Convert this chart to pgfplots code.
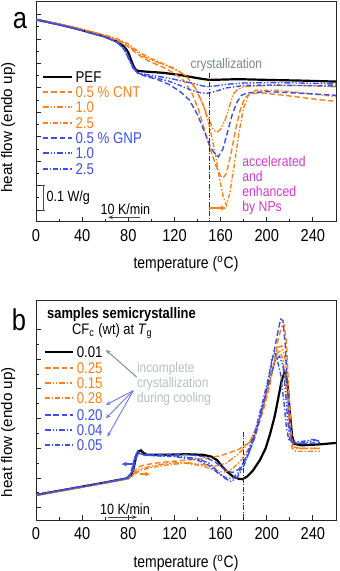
\documentclass[border=0pt]{standalone}
\usepackage{fontspec}
\setmainfont{Liberation Sans}[FakeStretch=0.85]
\newfontfamily\ylf{Liberation Sans}
\usepackage{pgfplots}
\pgfplotsset{compat=1.18}
\usetikzlibrary{arrows.meta}
\definecolor{orng}{RGB}{250,130,30}
\definecolor{blu}{RGB}{60,80,230}
\definecolor{mag}{RGB}{205,60,205}
\definecolor{annot}{RGB}{120,135,135}
\definecolor{lgray}{RGB}{180,192,192}
\definecolor{ablue}{RGB}{110,120,235}

\tikzset{
  s1/.style={draw=black, line width=1.1pt},
  s2/.style={draw=orng, line width=0.7pt, dash pattern=on 2.8pt off 1.4pt},
  s3/.style={draw=orng, line width=0.7pt, dash pattern=on 3pt off 0.9pt on 0.7pt off 0.9pt on 0.7pt off 0.9pt},
  s4/.style={draw=orng, line width=0.7pt, dash pattern=on 2.4pt off 1pt on 0.7pt off 1pt},
  s5/.style={draw=blu, line width=0.7pt, dash pattern=on 2.8pt off 1.4pt},
  s6/.style={draw=blu, line width=0.7pt, dash pattern=on 3pt off 0.9pt on 0.7pt off 0.9pt on 0.7pt off 0.9pt},
  s7/.style={draw=blu, line width=0.7pt, dash pattern=on 2.4pt off 1pt on 0.7pt off 1pt},
}
% one legend row: style, line start, line end, y, text
\newcommand{\lgd}[5]{%
  \draw[#1] (axis description cs:#2,#4) -- (axis description cs:#3,#4);
  \node[anchor=west, inner sep=0pt, font=\fontsize{7.8}{8}\selectfont] at (axis description cs:#3,#4) {\hspace{1.6pt}#5};}

\pgfplotsset{
  panel/.style={
    scale only axis, width=150pt,
    xmin=0, xmax=260, xtick={0,40,...,240}, minor x tick num=1,
    yticklabels={}, minor y tick num=1,
    tick align=inside, tick pos=left,
    major tick length=2.6pt, minor tick length=1.5pt,
    axis line style={line width=0.5pt, black!85},
    every tick/.style={black!85, line width=0.45pt},
    tick label style={font=\fontsize{8.6}{9}\selectfont},
    /pgf/number format/assume math mode=true,
    xlabel={temperature (\textsuperscript{o}C)},
    ylabel={heat flow (endo up)},
    xlabel style={font=\fontsize{8.2}{9}\selectfont, anchor=center},
    ylabel style={font=\ylf\fontsize{7.6}{9}\selectfont, anchor=center},
  },
}

\begin{document}
\begin{tikzpicture}
\path[use as bounding box] (0,0) rectangle (170pt,285.5pt);

% ---------------- panel a
\begin{axis}[panel, at={(18pt,174.5pt)}, anchor=south west, height=110pt,
  ymin=-0.049, ymax=0.852, ytick={0,0.1,...,0.8},
  xlabel style={at={(axis description cs:0.5,-0.19)}},
  ylabel style={at={(axis description cs:-0.093,0.43)}},
]
\addplot[s1] coordinates {(0,0.78)(20,0.76)(40,0.737)(60,0.71)(70,0.69)(75,0.675)(78,0.66)(80,0.645)(82,0.62)(84,0.595)(86,0.577)(88,0.570)(95,0.567)(110,0.562)(125,0.553)(140,0.54)(150,0.533)(160,0.534)(175,0.536)(200,0.533)(230,0.53)(260,0.526)};
\addplot[s2] coordinates {(0,0.78)(30,0.75)(60,0.712)(70,0.695)(78,0.675)(85,0.65)(92,0.625)(100,0.605)(110,0.585)(120,0.56)(128,0.53)(135,0.48)(141,0.41)(146,0.33)(151,0.25)(156,0.18)(160,0.14)(162,0.13)(165,0.15)(169,0.23)(173,0.33)(177,0.41)(181,0.46)(185,0.475)(195,0.48)(215,0.47)(240,0.455)(260,0.445)};
\addplot[s3] coordinates {(0,0.78)(30,0.752)(60,0.716)(70,0.7)(78,0.68)(85,0.655)(92,0.632)(100,0.614)(110,0.597)(120,0.577)(130,0.55)(138,0.5)(144,0.44)(149,0.38)(153,0.335)(156.5,0.318)(160,0.33)(164,0.37)(168,0.43)(171,0.475)(175,0.495)(180,0.505)(200,0.51)(230,0.51)(260,0.505)};
\addplot[s4] coordinates {(0,0.78)(30,0.752)(60,0.716)(70,0.702)(80,0.68)(90,0.645)(100,0.62)(110,0.6)(120,0.58)(130,0.55)(138,0.5)(145,0.43)(150,0.35)(155,0.24)(159,0.13)(162,0.06)(165,0.02)(168,0.07)(172,0.19)(176,0.32)(180,0.42)(184,0.47)(190,0.49)(210,0.49)(240,0.475)(260,0.465)};
\addplot[s5] coordinates {(0,0.78)(30,0.748)(60,0.708)(70,0.688)(76,0.665)(80,0.63)(84,0.585)(88,0.56)(95,0.548)(105,0.535)(115,0.515)(125,0.485)(133,0.45)(140,0.39)(146,0.32)(151,0.26)(155,0.23)(158,0.218)(162,0.25)(166,0.32)(170,0.39)(174,0.44)(178,0.47)(184,0.48)(200,0.485)(230,0.478)(260,0.47)};
\addplot[s6] coordinates {(0,0.78)(30,0.748)(60,0.708)(70,0.688)(76,0.662)(80,0.625)(84,0.585)(88,0.565)(95,0.555)(105,0.548)(115,0.54)(125,0.53)(135,0.52)(143,0.51)(148,0.505)(155,0.508)(165,0.515)(180,0.52)(200,0.522)(230,0.52)(260,0.516)};
\addplot[s7] coordinates {(0,0.78)(30,0.748)(60,0.708)(70,0.688)(76,0.66)(80,0.622)(84,0.582)(88,0.562)(95,0.55)(105,0.54)(115,0.528)(125,0.51)(135,0.49)(143,0.48)(148,0.478)(155,0.485)(165,0.5)(180,0.51)(200,0.512)(230,0.51)(260,0.508)};
\addplot[black!80, line width=0.45pt, dash pattern=on 2.5pt off 0.8pt on 0.5pt off 0.8pt] coordinates {(150,0.56)(150,-0.049)};
\lgd{s1}{0.023}{0.12}{0.6605}{PEF}
\lgd{s2, line width=0.9pt}{0.023}{0.12}{0.592}{\textcolor{orng}{0.5 \% CNT}}
\lgd{s3, line width=0.9pt}{0.023}{0.12}{0.521}{\textcolor{orng}{1.0}}
\lgd{s4, line width=0.9pt}{0.023}{0.12}{0.451}{\textcolor{orng}{2.5}}
\lgd{s5, line width=0.9pt}{0.023}{0.12}{0.383}{\textcolor{blu}{0.5 \% GNP}}
\lgd{s6, line width=0.9pt}{0.023}{0.12}{0.312}{\textcolor{blu}{1.0}}
\lgd{s7, line width=0.9pt}{0.023}{0.12}{0.241}{\textcolor{blu}{2.5}}
\node[annot, font=\fontsize{7}{8}\selectfont] at (axis cs:165,0.594) {crystallization};
\draw[orng, line width=0.8pt, -{Stealth[length=3pt,width=2.6pt]}] (axis cs:149.5,0.008) -- (axis cs:165,0.008);
\node[mag, font=\fontsize{7.2}{7.4}\selectfont, align=left, anchor=north west, inner sep=0pt] at (axis cs:178.5,0.222) {accelerated\\and\\enhanced\\by NPs};
\draw[black!70, line width=0.5pt] (axis cs:4.5,0.102) -- (axis cs:8.1,0.102) (axis cs:6.3,0.102) -- (axis cs:6.3,0) (axis cs:4.5,0) -- (axis cs:8.1,0);
\node[font=\fontsize{7.4}{8}\selectfont, anchor=west, inner sep=0pt] at (axis cs:8.8,0.049) {0.1 W/g};
\node[font=\fontsize{7.4}{8}\selectfont, inner sep=0pt] at (axis cs:77.5,0.005) {10 K/min};
\draw[black!70, line width=0.5pt, -{Stealth[length=2.5pt,width=2pt]}] (axis cs:90,-0.03) -- (axis cs:62.5,-0.03);
\end{axis}
\node[font=\fontsize{15}{15}\selectfont] at (10pt,275pt) {a};

% ---------------- panel b
\begin{axis}[panel, at={(18pt,25.5pt)}, anchor=south west, height=109.65pt,
  ymin=-0.0414, ymax=0.697, ytick={0,0.1,...,0.6},
  xlabel style={at={(axis description cs:0.5,-0.196)}},
  ylabel style={at={(axis description cs:-0.093,0.40)}},
]
\addplot[s1] coordinates {(0,0.043)(20,0.057)(40,0.071)(60,0.085)(75,0.096)(80,0.1)(83,0.11)(85,0.14)(87,0.175)(89,0.19)(91,0.193)(93,0.185)(96,0.178)(110,0.178)(130,0.18)(145,0.178)(152,0.172)(157,0.16)(161,0.14)(166,0.12)(171,0.104)(176,0.097)(179,0.096)(183,0.105)(188,0.125)(194,0.16)(199,0.2)(203,0.25)(207,0.31)(210,0.37)(213,0.43)(215.5,0.456)(218,0.42)(220,0.32)(222,0.24)(224,0.215)(230,0.21)(245,0.213)(260,0.218)};
\addplot[s2] coordinates {(0,0.042)(20,0.056)(40,0.07)(60,0.084)(75,0.095)(80,0.099)(85,0.12)(88,0.135)(92,0.142)(100,0.148)(115,0.155)(130,0.16)(145,0.165)(160,0.175)(175,0.195)(185,0.22)(192,0.27)(198,0.34)(203,0.42)(207,0.5)(210,0.57)(213,0.61)(215,0.615)(217,0.56)(219,0.4)(221,0.26)(223,0.205)(230,0.2)(246,0.2)};
\addplot[s3] coordinates {(0,0.041)(20,0.055)(40,0.069)(60,0.083)(75,0.094)(80,0.098)(85,0.115)(90,0.13)(100,0.14)(115,0.15)(130,0.152)(145,0.145)(155,0.14)(165,0.15)(175,0.18)(185,0.22)(192,0.28)(198,0.36)(203,0.44)(207,0.5)(210,0.54)(213,0.545)(216,0.5)(219,0.35)(221,0.24)(223,0.2)(246,0.2)};
\addplot[s4] coordinates {(0,0.041)(20,0.055)(40,0.069)(60,0.083)(75,0.094)(80,0.098)(85,0.11)(90,0.125)(100,0.135)(115,0.145)(130,0.15)(145,0.14)(155,0.125)(163,0.12)(170,0.13)(178,0.16)(186,0.21)(193,0.28)(199,0.37)(204,0.45)(208,0.51)(211,0.53)(214,0.5)(217,0.4)(220,0.27)(222,0.2)(225,0.19)(246,0.19)};
\addplot[s5] coordinates {(0,0.043)(20,0.057)(40,0.071)(60,0.085)(75,0.096)(78,0.098)(82,0.115)(85,0.16)(88,0.19)(90,0.185)(94,0.176)(110,0.18)(130,0.18)(145,0.172)(155,0.155)(163,0.13)(170,0.118)(176,0.13)(183,0.17)(190,0.24)(196,0.33)(201,0.42)(205,0.5)(209,0.58)(212,0.635)(214,0.63)(216,0.55)(218,0.4)(220,0.27)(222,0.22)(230,0.215)(246,0.22)};
\addplot[s6] coordinates {(0,0.043)(20,0.057)(40,0.071)(60,0.085)(75,0.096)(80,0.1)(84,0.125)(87,0.17)(89,0.185)(92,0.18)(100,0.176)(120,0.175)(140,0.165)(150,0.15)(158,0.12)(164,0.098)(169,0.088)(174,0.1)(180,0.14)(187,0.21)(193,0.29)(199,0.38)(204,0.45)(208,0.5)(211,0.51)(214,0.48)(216,0.4)(218,0.3)(220,0.23)(223,0.215)(235,0.22)(242,0.228)(246,0.222)};
\addplot[s7] coordinates {(0,0.043)(20,0.057)(40,0.071)(60,0.085)(75,0.096)(80,0.1)(84,0.13)(86,0.175)(88,0.19)(91,0.18)(100,0.175)(120,0.172)(140,0.16)(150,0.142)(158,0.115)(165,0.1)(170,0.098)(176,0.12)(183,0.18)(190,0.26)(196,0.35)(201,0.43)(205,0.51)(207,0.52)(209,0.5)(212,0.45)(215,0.35)(217,0.27)(219,0.23)(222,0.22)(235,0.225)(240,0.23)(246,0.225)};
\addplot[black!80, line width=0.45pt, dash pattern=on 2.5pt off 0.8pt on 0.5pt off 0.8pt] coordinates {(180,0.256)(180,-0.0414)};
\lgd{s1}{0.03}{0.124}{0.7675}{0.01}
\lgd{s2, line width=0.9pt}{0.03}{0.124}{0.6918}{\textcolor{orng}{0.25}}
\lgd{s3, line width=0.9pt}{0.03}{0.124}{0.6234}{\textcolor{orng}{0.15}}
\lgd{s4, line width=0.9pt}{0.03}{0.124}{0.5550}{\textcolor{orng}{0.28}}
\lgd{s5, line width=0.9pt}{0.03}{0.124}{0.4788}{\textcolor{blu}{0.20}}
\lgd{s6, line width=0.9pt}{0.03}{0.124}{0.4104}{\textcolor{blu}{0.04}}
\lgd{s7, line width=0.9pt}{0.03}{0.124}{0.3420}{\textcolor{blu}{0.05}}
\node[font=\bfseries\fontsize{7.6}{8}\selectfont, anchor=west, inner sep=0pt] at (axis cs:9.3,0.649) {samples semicrystalline};
\node[font=\fontsize{7.6}{8}\selectfont, anchor=west, inner sep=0pt] at (axis cs:30.9,0.593) {CF\textsubscript{c} (wt) at \textit{T}\textsubscript{g}};
\node[lgray, font=\fontsize{7}{7.5}\selectfont, align=left, anchor=north west, inner sep=0pt] at (axis cs:87.2,0.49) {incomplete\\crystallization\\during cooling};
\draw[annot, line width=0.45pt, -{Stealth[length=2.5pt,width=2pt]}] (axis cs:87.2,0.44) -- (axis cs:60.6,0.531);
\draw[ablue, line width=0.45pt, -{Stealth[length=2.5pt,width=2pt]}] (axis cs:84.3,0.394) -- (axis cs:60.6,0.346);
\draw[ablue, line width=0.45pt, -{Stealth[length=2.5pt,width=2pt]}] (axis cs:84.3,0.394) -- (axis cs:60.6,0.301);
\draw[ablue, line width=0.45pt, -{Stealth[length=2.5pt,width=2pt]}] (axis cs:84.3,0.394) -- (axis cs:61.8,0.239);
\draw[blu, line width=0.8pt, -{Stealth[length=2.6pt,width=2.4pt]}] (axis cs:85.8,0.147) -- (axis cs:74.3,0.147);
\draw[orng, line width=0.8pt, -{Stealth[length=2.6pt,width=2.4pt]}] (axis cs:90.1,0.113) -- (axis cs:98.8,0.113);
\node[font=\fontsize{7.4}{8}\selectfont, inner sep=0pt] at (axis cs:77.1,-0.006) {10 K/min};
\draw[black!70, line width=0.5pt, -{Stealth[length=2.5pt,width=2pt]}] (axis cs:62.4,-0.032) -- (axis cs:87.5,-0.032);
\end{axis}
\node[font=\fontsize{15}{15}\selectfont] at (9.5pt,125.5pt) {b};
\end{tikzpicture}
\end{document}
